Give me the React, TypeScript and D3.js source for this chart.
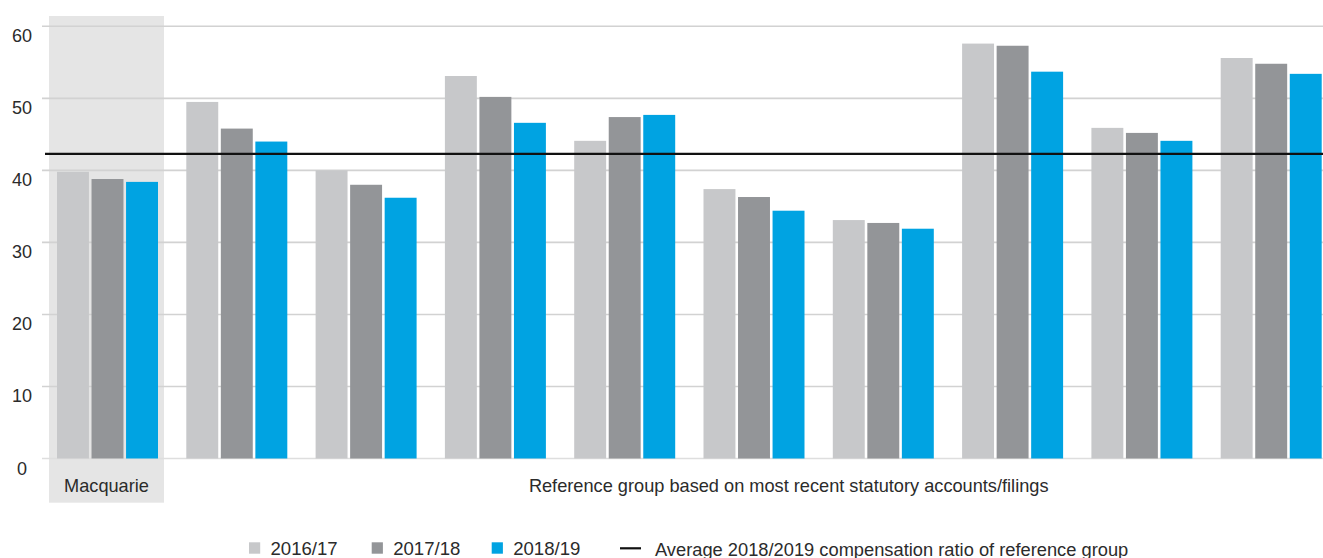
import React from "react";
import * as d3 from "d3";

const categories = ["Macquarie", "Peer A", "Peer B", "Peer C", "Peer D", "Peer E", "Peer F", "Peer G", "Peer H", "Peer I"];
const seriesNames = ["2016/17", "2017/18", "2018/19"];
const values2016 = [39.8, 49.5, 40.0, 53.1, 44.1, 37.4, 33.1, 57.6, 45.9, 55.6];
const values2017 = [38.8, 45.8, 38.0, 50.2, 47.4, 36.3, 32.7, 57.3, 45.2, 54.8];
const values2018 = [38.4, 44.0, 36.2, 46.6, 47.7, 34.4, 31.9, 53.7, 44.1, 53.4];
const averageRef = 42.3;
const yTicks = [0, 10, 20, 30, 40, 50, 60];
const colors = ["#c7c8ca", "#939598", "#00a3e2"];
const groupLabel = "Reference group based on most recent statutory accounts/filings";
const averageLabel = "Average 2018/2019 compensation ratio of reference group";

const W = 1323;
const H = 558;
const FONT = "'Liberation Sans', Arial, Helvetica, sans-serif";
const TEXT = "#2b2b2b";

export default function App() {
  const series = [values2016, values2017, values2018];
  const step = 129.3;
  const pin = 28.3 / step;
  const x0 = d3
    .scaleBand<string>()
    .domain(categories)
    .range([57 - (step * pin) / 2, 57 - (step * pin) / 2 + step * categories.length])
    .paddingInner(pin)
    .paddingOuter(pin / 2);
  const x1 = d3.scaleBand<string>().domain(seriesNames).range([0, x0.bandwidth()]).paddingInner(0.075);
  const y = d3.scaleLinear().domain([0, 60]).range([458.5, 26.3]);

  const legendSquares = [249, 371.7, 491.7];

  return (
    <svg width={W} height={H} style={{ position: "absolute", left: 0, top: 0, background: "#fff" }} fontFamily={FONT}>
      {/* Macquarie highlight box */}
      <rect x={49} y={16} width={115} height={486.7} fill="#e5e5e5" />
      {/* gridlines */}
      {yTicks.map((t) => (
        <line key={t} x1={42} x2={W} y1={y(t)} y2={y(t)} stroke={t === 0 ? "#dedede" : "#d2d2d2"} strokeWidth={1.6} />
      ))}
      {yTicks.map((t) => (
        <text key={"l" + t} x={22} y={y(t) + 16} textAnchor="middle" fontSize={18} fill={TEXT}>
          {t}
        </text>
      ))}
      {/* bars */}
      {categories.map((c, i) => (
        <g key={c} transform={`translate(${x0(c)},0)`}>
          {seriesNames.map((s, j) => (
            <rect
              key={s}
              x={x1(s)}
              y={y(series[j][i])}
              width={x1.bandwidth()}
              height={y(0) - y(series[j][i])}
              fill={colors[j]}
            />
          ))}
        </g>
      ))}
      {/* average line */}
      <line x1={45} x2={W} y1={y(averageRef)} y2={y(averageRef)} stroke="#111" strokeWidth={2.2} />
      {/* category labels */}
      <text x={106.5} y={492} textAnchor="middle" fontSize={18.2} fill={TEXT}>
        {categories[0]}
      </text>
      <text x={788.7} y={492.3} textAnchor="middle" fontSize={18.2} fill={TEXT}>
        {groupLabel}
      </text>
      {/* legend */}
      {seriesNames.map((s, j) => (
        <g key={"lg" + s}>
          <rect x={legendSquares[j]} y={542.3} width={11.2} height={11.4} fill={colors[j]} />
          <text x={legendSquares[j] + 21.5} y={554.7} fontSize={18.6} fill={TEXT}>
            {s}
          </text>
        </g>
      ))}
      <line x1={620} x2={641} y1={548.3} y2={548.3} stroke="#111" strokeWidth={2.2} />
      <text x={655} y={555.5} fontSize={18.3} fill={TEXT}>
        {averageLabel}
      </text>
    </svg>
  );
}
